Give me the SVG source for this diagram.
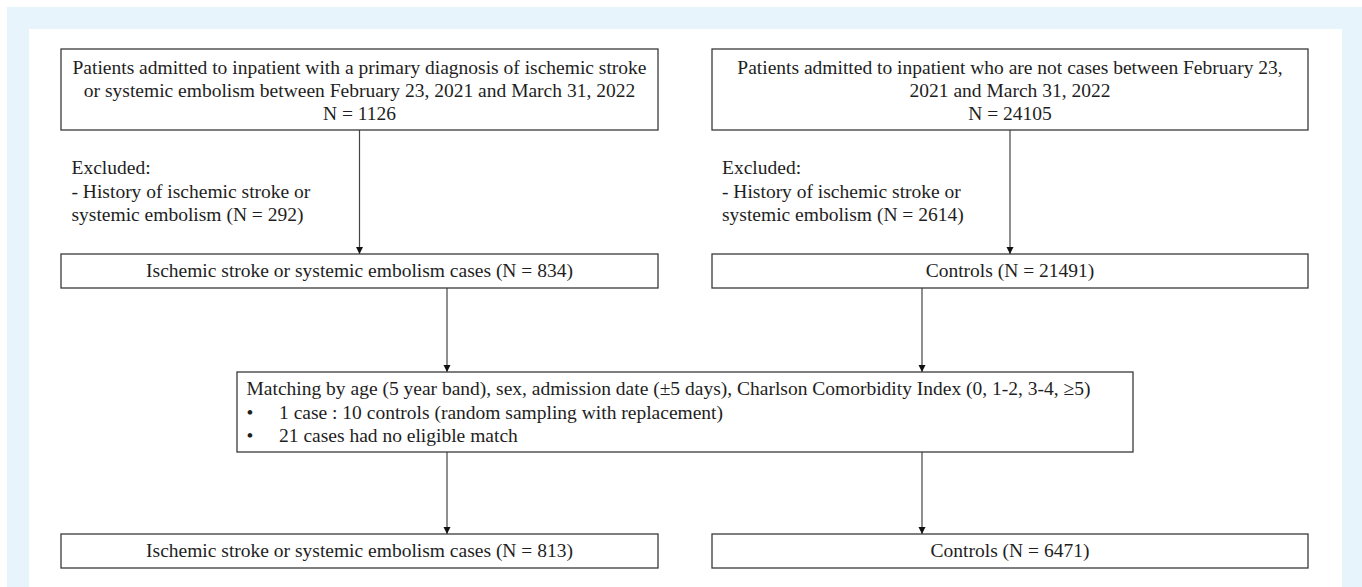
<svg xmlns="http://www.w3.org/2000/svg" width="1362" height="587" viewBox="0 0 1362 587">
<style>
.box{fill:#fff;stroke:#3a3a3a;stroke-width:1.3}
.t{font-family:"Liberation Serif","Times New Roman",serif;font-size:19.5px;fill:#1e1e1e}
.c{text-anchor:middle}
.ln{stroke:#444;stroke-width:1.2;fill:none;marker-end:url(#ah)}
</style>
<defs>
<marker id="ah" viewBox="0 0 10 10" refX="10" refY="5" markerUnits="userSpaceOnUse" markerWidth="7" markerHeight="8" orient="auto">
<path d="M0,0 L10,5 L0,10 z" fill="#111"/>
</marker>
</defs>
<rect x="0" y="0" width="1362" height="587" fill="#fff"/>
<rect x="7" y="7" width="1355" height="580" fill="#e7f4fb"/>
<rect x="29" y="29" width="1313" height="558" fill="#fff"/>

<g id="connectors">
<line class="ln" x1="359.5" y1="130" x2="359.5" y2="254"/>
<line class="ln" x1="1010" y1="130" x2="1010" y2="254"/>
<line class="ln" x1="447" y1="288" x2="447" y2="372"/>
<line class="ln" x1="922" y1="288" x2="922" y2="372"/>
<line class="ln" x1="447" y1="452" x2="447" y2="534"/>
<line class="ln" x1="922" y1="452" x2="922" y2="534"/>
</g>

<g id="cases-source">
<rect class="box" x="61" y="49" width="597" height="81"/>
<text class="t c" x="359.5" y="74">Patients admitted to inpatient with a primary diagnosis of ischemic stroke</text>
<text class="t c" x="359.5" y="97">or systemic embolism between February 23, 2021 and March 31, 2022</text>
<text class="t c" x="359.5" y="120">N = 1126</text>
</g>

<g id="controls-source">
<rect class="box" x="712" y="49" width="596" height="81"/>
<text class="t c" x="1010" y="74">Patients admitted to inpatient who are not cases between February 23,</text>
<text class="t c" x="1010" y="97">2021 and March 31, 2022</text>
<text class="t c" x="1010" y="120">N = 24105</text>
</g>

<g id="cases-excluded">
<text class="t" x="71.5" y="174">Excluded:</text>
<text class="t" x="71.5" y="197.5">- History of ischemic stroke or</text>
<text class="t" x="71.5" y="221">systemic embolism (N = 292)</text>
</g>

<g id="controls-excluded">
<text class="t" x="722" y="174">Excluded:</text>
<text class="t" x="722" y="197.5">- History of ischemic stroke or</text>
<text class="t" x="722" y="221">systemic embolism (N = 2614)</text>
</g>

<g id="cases">
<rect class="box" x="61" y="254" width="597" height="34"/>
<text class="t c" x="359.5" y="277">Ischemic stroke or systemic embolism cases (N = 834)</text>
</g>

<g id="controls">
<rect class="box" x="712" y="254" width="596" height="34"/>
<text class="t c" x="1010" y="277">Controls (N = 21491)</text>
</g>

<g id="matching">
<rect class="box" x="237" y="372" width="896" height="80"/>
<text class="t" x="246.5" y="395">Matching by age (5 year band), sex, admission date (±5 days), Charlson Comorbidity Index (0, 1-2, 3-4, ≥5)</text>
<text class="t" x="246.5" y="418.5">•</text>
<text class="t" x="279" y="418.5">1 case : 10 controls (random sampling with replacement)</text>
<text class="t" x="246.5" y="442">•</text>
<text class="t" x="279" y="442">21 cases had no eligible match</text>
</g>

<g id="final-cases">
<rect class="box" x="61" y="534" width="597" height="34"/>
<text class="t c" x="359.5" y="557">Ischemic stroke or systemic embolism cases (N = 813)</text>
</g>

<g id="final-controls">
<rect class="box" x="712" y="534" width="596" height="34"/>
<text class="t c" x="1010" y="557">Controls (N = 6471)</text>
</g>
</svg>
